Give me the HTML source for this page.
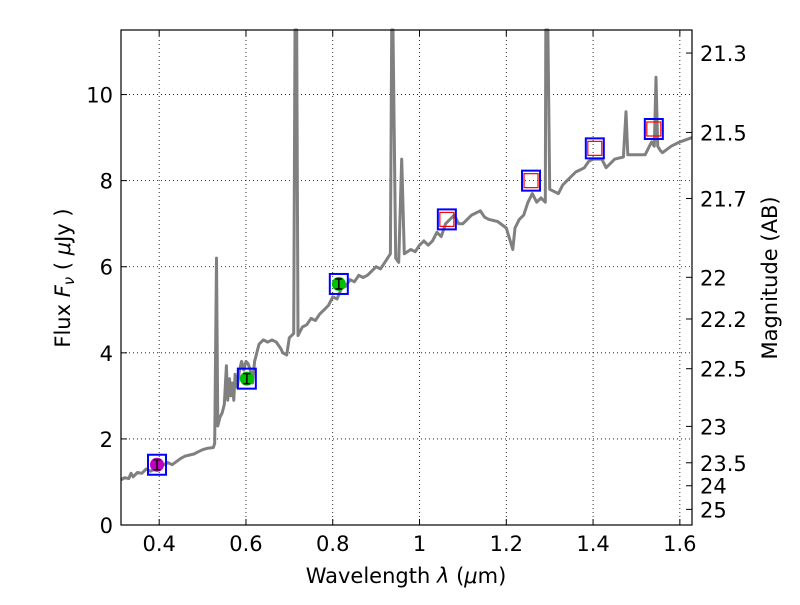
<!DOCTYPE html>
<html><head><meta charset="utf-8">
<style>
body{margin:0;background:#fff;}
svg{font-family:"DejaVu Sans","Liberation Sans",sans-serif;}
</style></head>
<body>
<svg id="chart" width="800" height="600" viewBox="0 0 800 600" xmlns="http://www.w3.org/2000/svg">
<rect width="800" height="600" fill="#fff"/>
<g id="grid"></g>
<g id="spec"></g>
<g id="phot"></g>
<rect x="121" y="30" width="571" height="495" fill="none" stroke="#000" stroke-width="1.2"/>
<g id="axes"></g>
<text x="406" y="583" font-size="21" text-anchor="middle">Wavelength  <tspan font-style="italic">λ</tspan> (<tspan font-style="italic">μ</tspan>m)</text>
<text transform="translate(70,278) rotate(-90)" font-size="21" text-anchor="middle">Flux  <tspan font-style="italic">F<tspan font-size="15" dy="4">ν</tspan></tspan><tspan dy="-4">  (  </tspan><tspan font-style="italic">μ</tspan>Jy )</text>
<text transform="translate(777,278) rotate(-90)" font-size="21" text-anchor="middle">Magnitude (AB)</text>
</svg>
<script>
const xTicks=[0.4,0.6,0.8,1.0,1.2,1.4,1.6];
const xTickLabels=["0.4","0.6","0.8","1","1.2","1.4","1.6"];
const yTicks=[0,2,4,6,8,10];
const magTicks=[21.3,21.5,21.7,22,22.2,22.5,23,23.5,24,25];
const specWave=[0.312,0.32,0.33,0.335,0.34,0.35,0.36,0.37,0.38,0.40,0.42,0.43,0.45,0.46,0.48,0.49,0.50,0.51,0.525,0.528,0.532,0.535,0.54,0.545,0.55,0.555,0.558,0.562,0.565,0.568,0.572,0.575,0.58,0.585,0.59,0.595,0.60,0.605,0.61,0.615,0.62,0.63,0.64,0.65,0.66,0.67,0.68,0.685,0.694,0.70,0.71,0.713,0.715,0.717,0.72,0.73,0.74,0.75,0.76,0.77,0.78,0.79,0.80,0.81,0.82,0.83,0.84,0.85,0.86,0.87,0.88,0.89,0.90,0.91,0.92,0.933,0.936,0.939,0.945,0.952,0.959,0.965,0.98,0.99,1.00,1.01,1.02,1.03,1.04,1.05,1.06,1.07,1.08,1.09,1.10,1.12,1.14,1.15,1.16,1.18,1.20,1.215,1.22,1.23,1.24,1.25,1.26,1.27,1.28,1.29,1.291,1.293,1.296,1.30,1.32,1.33,1.34,1.36,1.37,1.38,1.39,1.40,1.42,1.43,1.45,1.47,1.476,1.48,1.50,1.52,1.535,1.541,1.545,1.549,1.555,1.56,1.58,1.60,1.628];
const specFlux=[1.05,1.1,1.08,1.2,1.12,1.22,1.2,1.3,1.25,1.35,1.45,1.4,1.55,1.6,1.65,1.7,1.75,1.78,1.8,1.9,6.2,2.3,2.5,2.6,2.8,3.7,2.9,3.4,3.0,3.3,2.9,3.5,3.2,3.6,3.8,3.6,3.8,3.75,3.6,3.3,3.8,4.2,4.3,4.25,4.3,4.25,4.1,4.0,3.95,4.35,4.45,11.5,11.5,11.5,4.4,4.6,4.65,4.8,4.75,4.9,5.0,5.1,5.3,5.25,5.5,5.55,5.7,5.65,5.8,5.75,5.8,5.9,6.0,5.95,6.1,6.3,11.5,11.5,6.2,6.1,8.5,6.3,6.4,6.35,6.5,6.6,6.5,6.6,6.8,6.7,7.0,7.1,7.2,7.0,7.0,7.2,7.3,7.15,7.1,7.05,6.9,6.4,6.9,7.1,7.2,7.5,7.7,7.5,7.6,7.5,11.5,11.5,11.5,7.8,7.7,7.9,8.0,8.2,8.25,8.3,8.45,8.5,8.5,8.3,8.5,8.55,9.6,8.6,8.6,8.6,8.9,8.8,10.4,8.8,8.7,8.65,8.8,8.9,9.0];
const photWave=[0.395,0.602,0.814,1.063,1.257,1.404,1.540];
const photFlux=[1.4,3.4,5.6,7.1,8.0,8.75,9.2];
const photColor=["#bf00bf","#00bf00","#00bf00","none","none","none","none"];

const X0=121,X1=692,Y0=525,Y1=30,XMIN=0.312,XMAX=1.628,YMIN=0,YMAX=11.5;
const sx=v=>X0+(v-XMIN)/(XMAX-XMIN)*(X1-X0);
const sy=v=>Y0-(v-YMIN)/(YMAX-YMIN)*(Y0-Y1);
const NS="http://www.w3.org/2000/svg";
function mk(parent,tag,attrs){const e=document.createElementNS(NS,tag);for(const k in attrs)e.setAttribute(k,attrs[k]);parent.appendChild(e);return e;}
const grid=document.getElementById('grid'),axes=document.getElementById('axes');
xTicks.forEach((t,i)=>{
  const x=sx(t);
  let g=mk(grid,'line',{x1:x,x2:x,y1:Y0,y2:Y1,stroke:'#000','stroke-width':0.8,'stroke-dasharray':'1,3'});
  
  
  let tk=mk(axes,'line',{x1:x,x2:x,y1:Y0,y2:Y0-6,stroke:'#000'});
  
  
  mk(axes,'line',{x1:x,x2:x,y1:Y1,y2:Y1+6,stroke:'#000'});
  let l=mk(axes,'text',{x:x,y:Y0+26,'font-size':21,'text-anchor':'middle'});
  l.textContent=xTickLabels[i];
  
  
});
yTicks.forEach(t=>{
  const y=sy(t);
  let g=mk(grid,'line',{x1:X0,x2:X1,y1:y,y2:y,stroke:'#000','stroke-width':0.8,'stroke-dasharray':'1,3'});
  
  
  mk(axes,'line',{x1:X0,x2:X0+6,y1:y,y2:y,stroke:'#000'});
  let l=mk(axes,'text',{x:X0-8,y:y+8,'font-size':21,'text-anchor':'end'});
  l.textContent=String(t);
  
  
});
magTicks.forEach(m=>{
  const f=Math.pow(10,(23.9-m)/2.5);const y=sy(f);
  mk(axes,'line',{x1:X1,x2:X1-6,y1:y,y2:y,stroke:'#000'});
  let l=mk(axes,'text',{x:X1+8,y:y+8,'font-size':21,'text-anchor':'start'});
  l.textContent=String(m);
  
  
});
const spec=document.getElementById('spec');
let d=specWave.map((w,i)=>(i?'L':'M')+sx(w).toFixed(1)+','+Math.max(sy(specFlux[i]),Y1).toFixed(1)).join(' ');
let p=mk(spec,'path',{d:d,fill:'none',stroke:'#808080','stroke-width':3,'stroke-linejoin':'round'});


const phot=document.getElementById('phot');
photWave.forEach((w,i)=>{
  const x=sx(w),y=sy(photFlux[i]);
  const g=mk(phot,'g',{});
  
  
  if(photColor[i]!=='none'){
    mk(g,'circle',{cx:x,cy:y,r:7,fill:photColor[i]});
    mk(g,'line',{x1:x,x2:x,y1:y-5,y2:y+5,stroke:'#000','stroke-width':1.5});
    mk(g,'line',{x1:x-3.5,x2:x+3.5,y1:y-5,y2:y-5,stroke:'#000','stroke-width':1.5});
    mk(g,'line',{x1:x-3.5,x2:x+3.5,y1:y+5,y2:y+5,stroke:'#000','stroke-width':1.5});
  } else {
    mk(g,'rect',{x:x-7,y:y-7,width:14,height:14,fill:'none',stroke:'#f00','stroke-width':1.2});
  }
  mk(g,'rect',{x:x-9,y:y-10,width:18,height:20,fill:'none',stroke:'#00f','stroke-width':2});
});
</script>
</body></html>
